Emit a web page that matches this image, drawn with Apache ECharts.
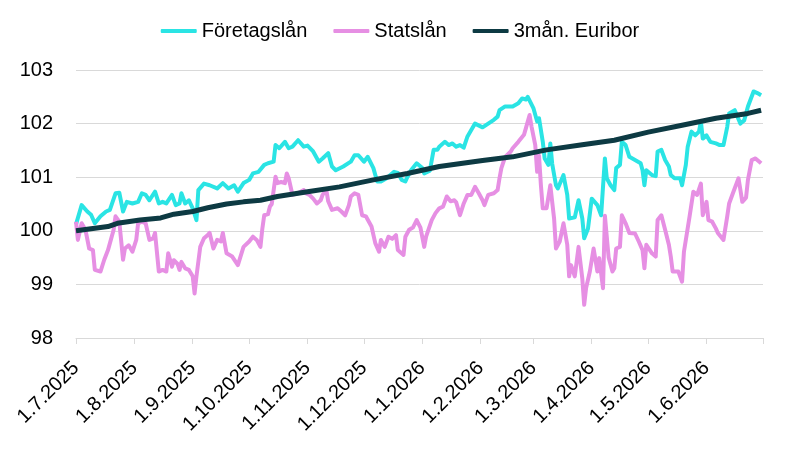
<!DOCTYPE html>
<html>
<head>
<meta charset="utf-8">
<script src="https://cdn.jsdelivr.net/npm/echarts@6/dist/echarts.min.js"></script>
<style>
  html, body { margin: 0; padding: 0; background: #fff; }
  #chart { width: 800px; height: 451px; }
</style>
</head>
<body>
<div id="chart"></div>
<script>
// Företagslån
const foretagDates = ['2025-07-01','2025-07-04','2025-07-07','2025-07-09','2025-07-11','2025-07-14','2025-07-17','2025-07-19','2025-07-22','2025-07-24','2025-07-26','2025-07-28','2025-07-31',
  '2025-08-03','2025-08-05','2025-08-07','2025-08-09','2025-08-10','2025-08-12','2025-08-14','2025-08-16','2025-08-18','2025-08-19','2025-08-21','2025-08-23','2025-08-25','2025-08-26','2025-08-28','2025-08-30',
  '2025-09-01','2025-09-03','2025-09-04','2025-09-07','2025-09-10','2025-09-14','2025-09-17','2025-09-20','2025-09-23','2025-09-25','2025-09-28',
  '2025-10-01','2025-10-03','2025-10-06','2025-10-09','2025-10-11','2025-10-14','2025-10-15','2025-10-17','2025-10-20','2025-10-22','2025-10-24','2025-10-27','2025-10-30',
  '2025-11-01','2025-11-04','2025-11-07','2025-11-09','2025-11-12','2025-11-14','2025-11-16','2025-11-20','2025-11-24','2025-11-26','2025-11-28',
  '2025-12-01','2025-12-03','2025-12-06','2025-12-08','2025-12-10','2025-12-13','2025-12-17','2025-12-19','2025-12-21','2025-12-23','2025-12-24','2025-12-26','2025-12-29',
  '2026-01-01','2026-01-02','2026-01-05','2026-01-07','2026-01-09','2026-01-10','2026-01-13','2026-01-15','2026-01-17','2026-01-19','2026-01-21','2026-01-23','2026-01-25','2026-01-29',
  '2026-02-02','2026-02-03','2026-02-05','2026-02-08','2026-02-10','2026-02-11','2026-02-14','2026-02-18','2026-02-21','2026-02-23','2026-02-25','2026-02-26','2026-02-27',
  '2026-03-01','2026-03-03','2026-03-04','2026-03-06','2026-03-07','2026-03-09','2026-03-10','2026-03-11','2026-03-13','2026-03-14','2026-03-17','2026-03-19','2026-03-20','2026-03-23','2026-03-25','2026-03-27','2026-03-28','2026-03-30',
  '2026-04-01','2026-04-04','2026-04-06','2026-04-08','2026-04-09','2026-04-11','2026-04-13','2026-04-14','2026-04-16','2026-04-17','2026-04-19','2026-04-21','2026-04-24','2026-04-27','2026-04-28','2026-04-29','2026-04-30',
  '2026-05-03','2026-05-05','2026-05-06','2026-05-08','2026-05-10','2026-05-12','2026-05-13','2026-05-15','2026-05-18','2026-05-19','2026-05-21','2026-05-22','2026-05-24','2026-05-26','2026-05-28','2026-05-29','2026-05-30',
  '2026-06-01','2026-06-03','2026-06-06','2026-06-08','2026-06-10','2026-06-12','2026-06-13','2026-06-16','2026-06-19','2026-06-21','2026-06-23','2026-06-26','2026-06-28','2026-06-30'];
const foretagValues = [100.12,100.48,100.36,100.30,100.14,100.27,100.36,100.39,100.70,100.71,100.36,100.54,100.51,
  100.54,100.70,100.67,100.57,100.57,100.73,100.51,100.54,100.51,100.48,100.67,100.48,100.51,100.70,100.51,100.57,
  100.42,100.20,100.76,100.88,100.85,100.79,100.89,100.79,100.85,100.73,100.89,
  100.95,101.07,101.10,101.23,101.26,101.29,101.60,101.54,101.66,101.54,101.57,101.69,101.57,
  101.59,101.48,101.29,101.35,101.45,101.20,101.13,101.20,101.29,101.41,101.41,
  101.29,101.38,101.17,100.92,100.92,100.98,101.10,101.08,100.95,100.92,101.00,101.13,101.26,
  101.17,101.07,101.12,101.51,101.51,101.57,101.66,101.60,101.63,101.57,101.60,101.55,101.76,102.00,
  101.93,101.90,102.00,102.07,102.13,102.25,102.32,102.32,102.38,102.47,102.45,102.50,102.53,
  102.29,102.04,102.10,101.66,101.35,101.23,101.63,101.25,100.85,100.79,101.04,100.67,100.23,100.25,100.57,100.23,99.86,100.04,
  100.60,100.48,100.29,101.35,100.98,100.85,100.76,101.17,101.23,101.66,101.60,101.38,101.32,101.26,101.13,100.85,101.13,
  101.04,101.02,101.48,101.51,101.32,101.20,101.04,100.98,100.98,100.85,101.23,101.57,101.85,101.78,101.85,102.04,101.72,
  101.78,101.66,101.63,101.60,101.60,101.94,102.19,102.25,102.00,102.06,102.32,102.60,102.57,102.53];

// Statslån
const statsDates = ['2025-07-01','2025-07-02','2025-07-04','2025-07-06','2025-07-08','2025-07-10','2025-07-11','2025-07-14','2025-07-16','2025-07-18','2025-07-19','2025-07-21','2025-07-22','2025-07-24','2025-07-26','2025-07-27','2025-07-29','2025-07-31',
  '2025-08-02','2025-08-03','2025-08-05','2025-08-07','2025-08-09','2025-08-11','2025-08-12','2025-08-14','2025-08-16','2025-08-18','2025-08-19','2025-08-21','2025-08-22','2025-08-24','2025-08-25','2025-08-26','2025-08-28','2025-08-30',
  '2025-09-01','2025-09-02','2025-09-03','2025-09-05','2025-09-07','2025-09-09','2025-09-10','2025-09-12','2025-09-14','2025-09-16','2025-09-17','2025-09-19','2025-09-22','2025-09-23','2025-09-25','2025-09-28',
  '2025-10-01','2025-10-03','2025-10-05','2025-10-07','2025-10-08','2025-10-09','2025-10-11','2025-10-12','2025-10-13','2025-10-15','2025-10-16','2025-10-18','2025-10-20','2025-10-21','2025-10-22','2025-10-24','2025-10-25','2025-10-27','2025-10-30','2025-10-31',
  '2025-11-02','2025-11-04','2025-11-06','2025-11-08','2025-11-09','2025-11-11','2025-11-12','2025-11-14','2025-11-17','2025-11-19','2025-11-21','2025-11-23','2025-11-24','2025-11-26','2025-11-28','2025-11-30',
  '2025-12-02','2025-12-03','2025-12-05','2025-12-07','2025-12-09','2025-12-10','2025-12-12','2025-12-14','2025-12-16','2025-12-18','2025-12-19','2025-12-22','2025-12-23','2025-12-25','2025-12-27','2025-12-29','2025-12-31',
  '2026-01-02','2026-01-03','2026-01-06','2026-01-08','2026-01-10','2026-01-12','2026-01-14','2026-01-16','2026-01-18','2026-01-19','2026-01-21','2026-01-23','2026-01-25','2026-01-27','2026-01-29','2026-01-31',
  '2026-02-02','2026-02-03','2026-02-05','2026-02-08','2026-02-10','2026-02-11','2026-02-12','2026-02-14','2026-02-17','2026-02-18','2026-02-21','2026-02-24','2026-02-25','2026-02-27','2026-02-28',
  '2026-03-02','2026-03-03','2026-03-04','2026-03-05','2026-03-06','2026-03-08','2026-03-10','2026-03-12','2026-03-13','2026-03-15','2026-03-17','2026-03-19','2026-03-20','2026-03-21','2026-03-23','2026-03-25','2026-03-27','2026-03-28','2026-03-29','2026-03-31',
  '2026-04-02','2026-04-04','2026-04-05','2026-04-07','2026-04-08','2026-04-10','2026-04-12','2026-04-13','2026-04-14','2026-04-16','2026-04-17','2026-04-19','2026-04-21','2026-04-24','2026-04-26','2026-04-28','2026-04-29','2026-04-30',
  '2026-05-03','2026-05-05','2026-05-06','2026-05-08','2026-05-10','2026-05-12','2026-05-13','2026-05-14','2026-05-17','2026-05-19','2026-05-20','2026-05-21','2026-05-23','2026-05-25','2026-05-27','2026-05-29','2026-05-30',
  '2026-06-01','2026-06-02','2026-06-04','2026-06-06','2026-06-07','2026-06-10','2026-06-12','2026-06-13','2026-06-15','2026-06-18','2026-06-20','2026-06-22','2026-06-23','2026-06-25','2026-06-27','2026-06-28','2026-06-30'];
const statsValues = [100.17,99.83,100.14,100.02,99.67,99.64,99.27,99.24,99.46,99.64,99.67,100.02,100.27,100.17,99.46,99.67,99.73,99.61,
  99.83,100.14,100.17,100.14,99.83,99.86,99.96,99.24,99.27,99.24,99.58,99.33,99.45,99.38,99.27,99.42,99.30,99.27,
  99.15,98.83,99.15,99.70,99.86,99.92,99.96,99.67,99.83,99.80,99.96,99.58,99.52,99.54,99.36,99.70,
  99.80,99.89,99.83,99.70,100.04,100.29,100.31,100.45,100.50,101.01,100.89,100.91,100.89,101.07,100.98,100.67,100.70,100.70,100.76,100.70,
  100.67,100.60,100.51,100.57,100.67,100.76,100.55,100.39,100.42,100.36,100.29,100.48,100.64,100.70,100.67,100.29,
  100.27,100.29,100.08,99.77,99.61,99.83,99.70,99.89,99.85,99.92,99.64,99.55,99.89,100.02,100.06,100.20,100.06,
  99.70,99.89,100.20,100.33,100.42,100.45,100.64,100.55,100.57,100.53,100.29,100.51,100.67,100.67,100.82,100.70,
  100.57,100.48,100.67,100.70,100.76,100.98,101.17,101.38,101.48,101.54,101.66,101.79,101.91,102.16,101.95,
  101.60,101.10,101.40,100.85,100.42,100.42,100.85,100.23,99.67,99.80,100.14,99.74,99.15,99.36,99.15,99.70,99.11,98.62,98.93,99.24,
  99.67,99.24,99.49,98.93,100.28,99.50,99.24,99.30,99.67,99.70,100.29,100.14,99.96,99.95,99.80,99.64,99.30,99.74,
  99.58,99.52,100.20,100.29,100.02,99.74,99.52,99.24,99.24,99.05,99.61,99.64,100.27,100.73,100.67,100.88,100.29,
  100.54,100.20,100.17,100.04,99.96,99.83,100.27,100.51,100.70,100.98,100.54,100.62,100.95,101.32,101.35,101.35,101.26];

// 3mån. Euribor
const euriborDates = ['2025-07-01','2025-07-18','2025-07-23','2025-08-04','2025-08-15','2025-08-22','2025-09-01','2025-09-09','2025-09-19','2025-09-28',
  '2025-10-07','2025-10-16','2025-11-01','2025-11-18','2025-12-06','2025-12-24','2026-01-10','2026-02-02','2026-02-18','2026-03-08',
  '2026-03-26','2026-04-13','2026-05-01','2026-05-19','2026-06-06','2026-06-23','2026-06-30'];
const euriborValues = [100.00,100.08,100.14,100.20,100.24,100.31,100.36,100.43,100.50,100.54,
  100.57,100.64,100.73,100.82,100.95,101.07,101.20,101.31,101.38,101.51,
  101.60,101.69,101.84,101.97,102.10,102.19,102.25];

// x-axis: month starts (labelled) and axis end
const monthTicks = ['2025-07-01','2025-08-01','2025-09-01','2025-10-01','2025-11-01','2025-12-01',
  '2026-01-01','2026-02-01','2026-03-01','2026-04-01','2026-05-01','2026-06-01'];
const axisStart = '2025-07-01';
const axisEnd = '2026-07-01';

function toTime(s) {
    let p = s.split('-');
    return Date.UTC(+p[0], +p[1] - 1, +p[2]);
}
function pairs(dates, values) {
    return dates.map((d, i) => [toTime(d), values[i]]);
}

let myChart = echarts.init(document.getElementById('chart'));
let font = 'Liberation Sans, Arial, sans-serif';

let option = {
    backgroundColor: '#fff',
    animation: false,
    textStyle: { fontFamily: font },
    legend: {
        top: 16,
        left: 'center',
        icon: 'roundRect',
        itemWidth: 36,
        itemHeight: 4,
        itemGap: 26,
        textStyle: { fontSize: 20, color: '#000', fontFamily: font },
        data: ['Företagslån', 'Statslån', '3mån. Euribor']
    },
    grid: { left: 76, right: 37, top: 70, bottom: 113 },
    xAxis: {
        type: 'value',
        min: toTime(axisStart),
        max: toTime(axisEnd),
        axisLine: { lineStyle: { color: '#d9d9d9', width: 1 } },
        axisTick: {
            show: true,
            length: 6,
            lineStyle: { color: '#d9d9d9' },
            customValues: monthTicks.concat([axisEnd]).map(toTime)
        },
        axisLabel: {
            customValues: monthTicks.map(toTime),
            rotate: 45,
            margin: 27,
            fontSize: 20,
            color: '#000',
            fontFamily: font,
            hideOverlap: false,
            formatter: function (v) {
                let d = new Date(v);
                return d.getUTCDate() + '.' + (d.getUTCMonth() + 1) + '.' + d.getUTCFullYear();
            }
        },
        splitLine: { show: false }
    },
    yAxis: {
        type: 'value',
        min: 98,
        max: 103,
        interval: 1,
        axisLine: { show: false },
        axisTick: { show: false },
        axisLabel: { fontSize: 20, color: '#000', margin: 23, fontFamily: font },
        splitLine: { lineStyle: { color: '#d9d9d9', width: 1 } }
    },
    series: [
        {
            name: 'Företagslån',
            type: 'line',
            showSymbol: false,
            data: pairs(foretagDates, foretagValues),
            lineStyle: { color: '#2ae4e4', width: 4, join: 'round' },
            itemStyle: { color: '#2ae4e4' }
        },
        {
            name: 'Statslån',
            type: 'line',
            showSymbol: false,
            data: pairs(statsDates, statsValues),
            lineStyle: { color: '#e68fe3', width: 4, join: 'round' },
            itemStyle: { color: '#e68fe3' }
        },
        {
            name: '3mån. Euribor',
            type: 'line',
            showSymbol: false,
            data: pairs(euriborDates, euriborValues),
            lineStyle: { color: '#0d3a43', width: 5, join: 'round' },
            itemStyle: { color: '#0d3a43' }
        }
    ]
};
myChart.setOption(option);
</script>
</body>
</html>
